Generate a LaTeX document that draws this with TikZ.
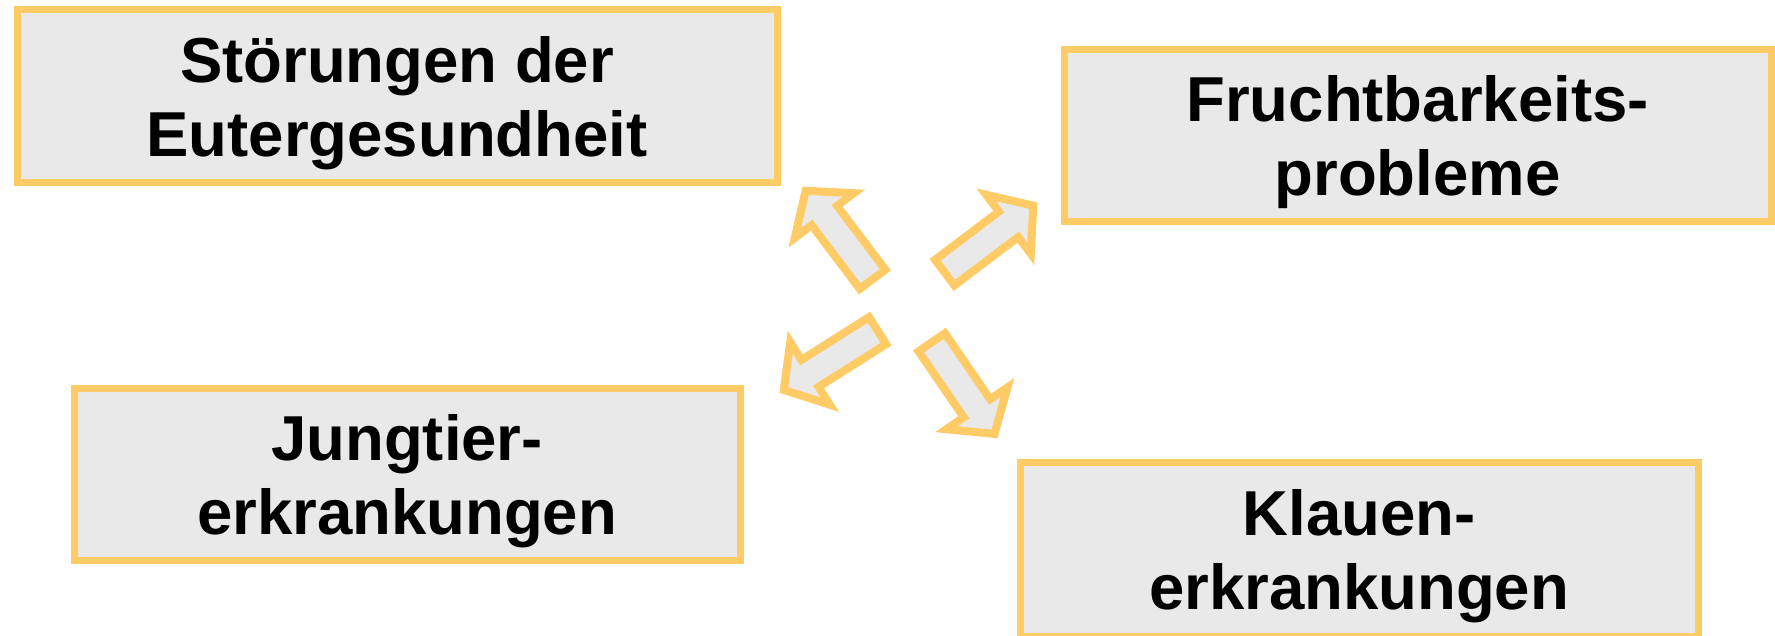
\documentclass[tikz,border=0pt]{standalone}
\usepackage{fontspec}
\setmainfont{Liberation Sans}
\definecolor{bordery}{HTML}{FFCB66}
\definecolor{boxfill}{HTML}{E9E9E9}
\begin{document}
\begin{tikzpicture}[x=1pt,y=-1pt,
  box/.style={draw=bordery,fill=boxfill,line width=7pt,inner sep=0pt},
  boxtext/.style={align=center,font=\fontsize{63.5}{74}\selectfont\bfseries,inner sep=0pt},
  barrow/.pic={\draw[draw=bordery,fill=boxfill,line width=8pt]
     (4,-16) -- (84,-16) -- (84,-37) -- (115,0) -- (84,37) -- (84,16) -- (4,16) -- cycle;}]
\useasboundingbox (0,0) rectangle (1775,635);
\node[box,minimum width=760pt,minimum height=173pt] (eu) at (397,96) {};
\node[boxtext] (eut) at ([yshift=-7pt]eu.center) {Störungen der\\Eutergesundheit};
\node[box,minimum width=707pt,minimum height=172pt] (fr) at (1417.5,135) {};
\node[boxtext] (frt) at ([yshift=-7pt]fr.center) {Fruchtbarkeits-\\probleme};
\node[box,minimum width=666pt,minimum height=172pt] (ju) at (407,474) {};
\node[boxtext] (jut) at ([yshift=-7pt]ju.center) {Jungtier-\\erkrankungen};
\node[box,minimum width=678pt,minimum height=174pt] (kl) at (1359,549) {};
\node[boxtext] (klt) at ([yshift=-7pt]kl.center) {Klauen-\\erkrankungen};
\pic[rotate=127.1] at (875,282.5) {barrow};
\pic[rotate=37.1] at (941.5,275) {barrow};
\pic[rotate=212.3] at (881,328.5) {barrow};
\pic[rotate=-55.6] at (929.5,339) {barrow};
\end{tikzpicture}
\end{document}
